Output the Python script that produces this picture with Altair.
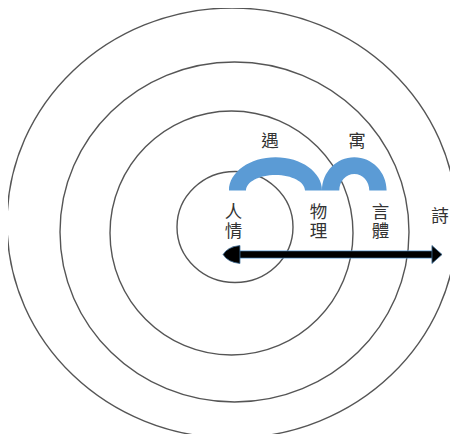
import altair as alt
import pandas as pd

# Diagram units: 1 unit = 1 px, origin at the common centre of the rings, y up.
# Rings (ellipses): centre and full width/height
ring_cx = [0, 2.5, -0.5, 3]
ring_cy = [5, -4, -5, 1]
ring_w = [450, 349, 243, 116]
ring_h = [430, 340, 244, 111]

# Blue arches: centre of base, outer half-width/height, inner half-width/height
arch_cx = [43.5, 122.3]
arch_by = [37.5, 37.5]
arch_ow = [46.5, 32.3]
arch_oh = [33.2, 33.2]
arch_iw = [29.5, 15.0]
arch_ih = [15.5, 16.5]

# Double arrow
arrow_x1 = [4]
arrow_x2 = [201]
arrow_y = [-26.5]
head_x = [-0.5, 205]
head_y = [-26.5, -26.5]
head_dir = ["left", "right"]

# Labels (vertical words written one character per row)
label_text = ["遇", "寓", "人", "情", "物", "理", "言", "體", "詩"]
label_x = [38, 125, 1.5, 1.5, 86.5, 86.5, 148.5, 148.5, 208]
label_y = [86.3, 86.3, 15, -3.5, 15, -3.5, 15, -3.5, 11.5]

K = 0.5523


def f(v):
    return f"{v:.4f}"


def ellipse_path(r):
    # normalised ellipse with rx = 1, ry = r
    return (
        f"M -1 0 C -1 {f(-K*r)} {f(-K)} {f(-r)} 0 {f(-r)} "
        f"C {f(K)} {f(-r)} 1 {f(-K*r)} 1 0 "
        f"C 1 {f(K*r)} {f(K)} {f(r)} 0 {f(r)} "
        f"C {f(-K)} {f(r)} -1 {f(K*r)} -1 0 Z"
    )


def arch_path(b, ri, si):
    return (
        f"M -1 0 C -1 {f(-K*b)} {f(-K)} {f(-b)} 0 {f(-b)} "
        f"C {f(K)} {f(-b)} 1 {f(-K*b)} 1 0 "
        f"L {f(ri)} 0 "
        f"C {f(ri)} {f(-K*si)} {f(K*ri)} {f(-si)} 0 {f(-si)} "
        f"C {f(-K*ri)} {f(-si)} {f(-ri)} {f(-K*si)} {f(-ri)} 0 Z"
    )


head_shapes = {
    "left": "M -0.94 0 Q -0.45 -0.85 0.94 -1 L 0.94 1 Q -0.45 0.85 -0.94 0 Z",
    "right": "M 0.56 0 L -0.56 -1 L -0.56 1 Z",
}

rings = pd.DataFrame({
    "x": ring_cx,
    "y": ring_cy,
    "size": [w * w for w in ring_w],
    "shape": [ellipse_path(h / w) for w, h in zip(ring_w, ring_h)],
})

arches = pd.DataFrame({
    "x": arch_cx,
    "y": arch_by,
    "size": [(2 * a) ** 2 for a in arch_ow],
    "shape": [arch_path(oh / a, iw / a, ih / a)
              for a, oh, iw, ih in zip(arch_ow, arch_oh, arch_iw, arch_ih)],
})

shaft = pd.DataFrame({"x1": arrow_x1, "x2": arrow_x2, "y": arrow_y})
heads = pd.DataFrame({
    "x": head_x,
    "y": head_y,
    "size": [18 * 18] * len(head_x),
    "shape": [head_shapes[d] for d in head_dir],
})
labels = pd.DataFrame({"text": label_text, "x": label_x, "y": label_y})

xs = alt.Scale(domain=[-224, 218], nice=False, zero=False)
ys = alt.Scale(domain=[-206, 220], nice=False, zero=False)
X = lambda f_: alt.X(f_, type="quantitative", scale=xs, axis=None)
Y = lambda f_: alt.Y(f_, type="quantitative", scale=ys, axis=None)

ring_layer = alt.Chart(rings).mark_point(
    filled=False, stroke="#555555", strokeWidth=1.4, opacity=1
).encode(
    x=X("x"), y=Y("y"),
    size=alt.Size("size:Q", scale=None),
    shape=alt.Shape("shape:N", scale=None),
)

arch_layer = alt.Chart(arches).mark_point(
    filled=True, fill="#5B9BD5", strokeWidth=0, opacity=1
).encode(
    x=X("x"), y=Y("y"),
    size=alt.Size("size:Q", scale=None),
    shape=alt.Shape("shape:N", scale=None),
)

shaft_edge = alt.Chart(shaft).mark_rule(color="#5B9BD5", strokeWidth=8, strokeCap="butt").encode(
    x=X("x1"), x2="x2", y=Y("y")
)
shaft_core = alt.Chart(shaft).mark_rule(color="#000000", strokeWidth=6.5, strokeCap="butt").encode(
    x=X("x1"), x2="x2", y=Y("y")
)

head_layer = alt.Chart(heads).mark_point(
    filled=True, fill="#000000", stroke="#41719C", strokeWidth=0.8, opacity=1
).encode(
    x=X("x"), y=Y("y"),
    size=alt.Size("size:Q", scale=None),
    shape=alt.Shape("shape:N", scale=None),
)

text_layer = alt.Chart(labels).mark_text(
    font="Noto Sans CJK TC", fontSize=17.5, color="#333333", align="center",
    baseline="middle"
).encode(
    x=X("x"), y=Y("y"), text="text:N"
)

chart = alt.layer(
    ring_layer, arch_layer, shaft_edge, shaft_core, head_layer, text_layer
).properties(
    width=442, height=426, padding=0, background="white",
    autosize=alt.AutoSizeParams(type="none"),
).configure_view(stroke=None)

chart.save("out.html", embed_options={"renderer": "svg", "actions": False})
